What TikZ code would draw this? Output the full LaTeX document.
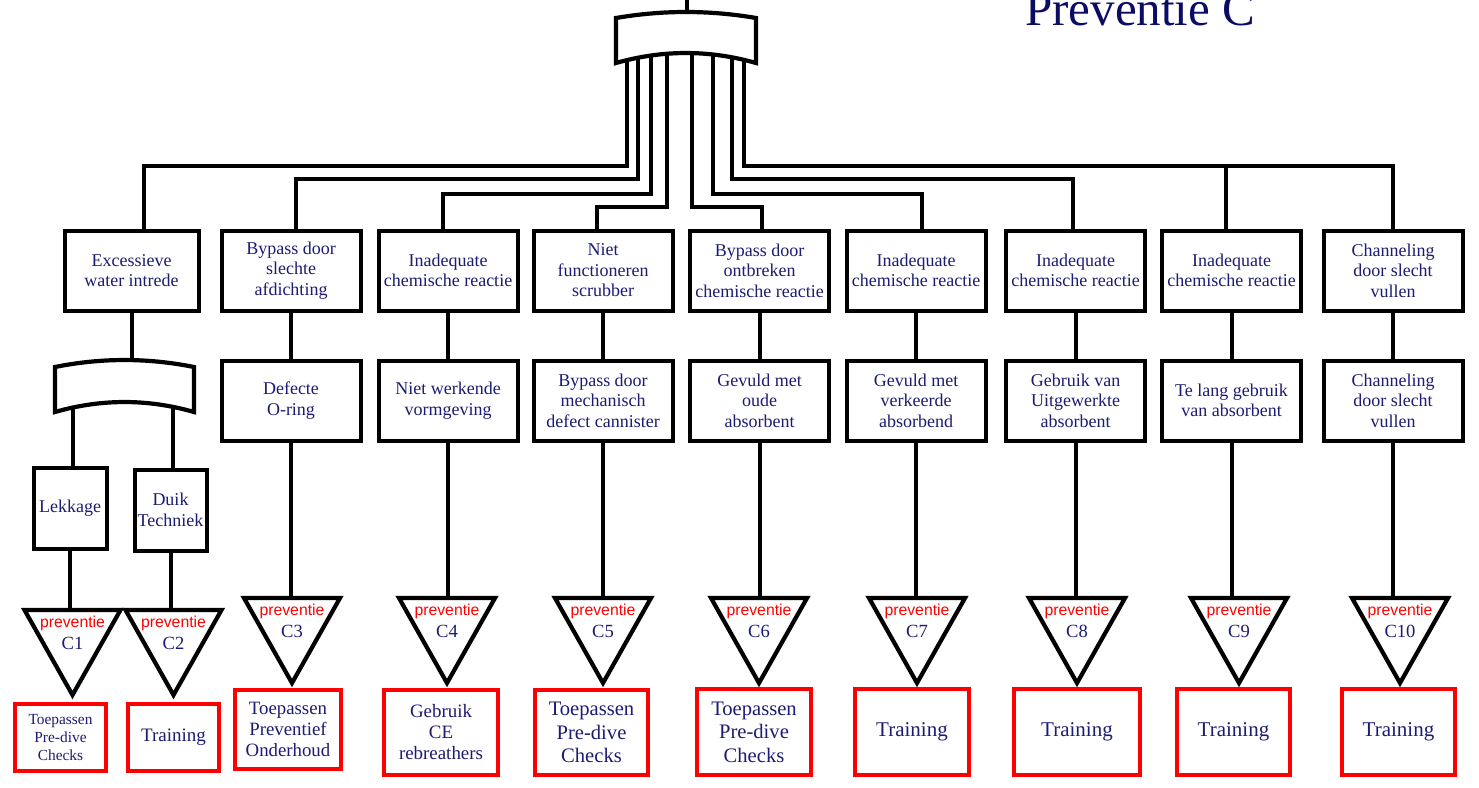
\documentclass[tikz,border=0pt]{standalone}
\usepackage{fontspec}
\setmainfont{Liberation Serif}
\newfontfamily\arialfont{Liberation Sans}
\usetikzlibrary{calc}
\definecolor{navytxt}{RGB}{28,28,115}
\definecolor{navytitle}{RGB}{12,12,100}
\definecolor{redline}{RGB}{255,0,0}
\newcommand\fsz[2]{\fontsize{#1}{#2}\selectfont}
\tikzset{
  conn/.style={line width=4pt},
  box/.style={draw, line width=4pt, fill=white, text=navytxt, align=center, inner sep=1pt, font=\fsz{18}{20.5}, minimum width=139pt, minimum height=80pt},
  redbox/.style={draw=redline, line width=4pt, fill=white, text=navytxt, align=center, inner sep=1pt, minimum height=85.5pt},
  gateline/.style={line width=4.2pt, line join=miter},
  prevlbl/.style={text=redline, font=\arialfont\fsz{15.8}{17}, inner sep=0pt},
  cnum/.style={text=navytxt, font=\fsz{18.6}{20}, inner sep=0pt},
  titlestyle/.style={text=navytitle, font=\fsz{49}{55}, inner sep=0pt}
}
\newcommand\prevtri[4]{%
  \coordinate (#1top) at (#2,#3);
  \coordinate (#1tip) at (#2,#3+85);
  \draw[gateline,fill=white] (#2-48,#3) -- (#2+48,#3) -- (#1tip) -- cycle;
  \node[prevlbl,anchor=base] (#1p) at (#2,#3+17) {preventie};
  \node[cnum,anchor=base] (#1c) at (#2,#3+39) {#4};
}
\begin{document}
\begin{tikzpicture}[x=1pt,y=-1pt]
\useasboundingbox (0,0) rectangle (1479,787);

% title
\node[titlestyle,anchor=base west] (title) at (1025,25) {Preventie C};

% row 1
\node[box,minimum width=134pt] (b1) at (131.5,270.5) {Excessieve\\water intrede};
\node[box] (b2) at (291,270.5) {Bypass door\\slechte\\afdichting};
\node[box] (b3) at (448,270.5) {Inadequate\\chemische reactie};
\node[box] (b4) at (603,270.5) {Niet\\functioneren\\scrubber};
\node[box] (b5) at (759.5,270.5) {Bypass door\\ontbreken\\chemische reactie};
\node[box] (b6) at (916,270.5) {Inadequate\\chemische reactie};
\node[box] (b7) at (1075.5,270.5) {Inadequate\\chemische reactie};
\node[box] (b8) at (1231.5,270.5) {Inadequate\\chemische reactie};
\node[box] (b9) at (1393,270.5) {Channeling\\door slecht\\vullen};

% row 2
\node[box] (r2) at (291,400.5) {Defecte\\O-ring};
\node[box] (r3) at (448,400.5) {Niet werkende\\vormgeving};
\node[box] (r4) at (603,400.5) {Bypass door\\mechanisch\\defect cannister};
\node[box] (r5) at (759.5,400.5) {Gevuld met\\oude\\absorbent};
\node[box] (r6) at (916,400.5) {Gevuld met\\verkeerde\\absorbend};
\node[box] (r7) at (1075.5,400.5) {Gebruik van\\Uitgewerkte\\absorbent};
\node[box] (r8) at (1231.5,400.5) {Te lang gebruik\\van absorbent};
\node[box] (r9) at (1393,400.5) {Channeling\\door slecht\\vullen};

% left sub-events
\node[box,minimum width=73pt,minimum height=81pt] (lek) at (70,508) {Lekkage};
\node[box,minimum width=72pt,minimum height=81pt] (duik) at (170.5,510) {Duik\\Techniek};

% red measure boxes
\node[redbox,minimum width=91.5pt,minimum height=67.5pt,font=\fsz{15.4}{18}] (p1) at (60.5,737.5) {Toepassen\\Pre-dive\\Checks};
\node[redbox,minimum width=91.5pt,minimum height=67.5pt,font=\fsz{19}{21}] (p2) at (173.5,737.5) {Training};
\node[redbox,minimum width=106.5pt,minimum height=79.5pt,font=\fsz{18.8}{21}] (p3) at (288,729.5) {Toepassen\\Preventief\\Onderhoud};
\node[redbox,minimum width=114.5pt,font=\fsz{18.9}{21}] (p4) at (441,732.5) {Gebruik\\CE\\rebreathers};
\node[redbox,minimum width=113.5pt,font=\fsz{20.6}{23.5}] (p5) at (591.5,732.5) {Toepassen\\Pre-dive\\Checks};
\node[redbox,minimum width=114.5pt,font=\fsz{20.6}{23.5}] (p6) at (754,732) {Toepassen\\Pre-dive\\Checks};
\node[redbox,minimum width=114.5pt,font=\fsz{21}{23}] (p7) at (912,732) {Training};
\node[redbox,minimum width=126.5pt,font=\fsz{21}{23}] (p8) at (1077,732) {Training};
\node[redbox,minimum width=113.5pt,font=\fsz{21}{23}] (p9) at (1233.5,732) {Training};
\node[redbox,minimum width=113.5pt,font=\fsz{21}{23}] (p10) at (1398.5,732) {Training};

% gate coordinates
\coordinate (gtop) at (687,14);
\coordinate (topend) at (687,0);
\coordinate (o1) at (627,40);
\coordinate (o2) at (638,40);
\coordinate (o3) at (651,40);
\coordinate (o4) at (667,40);
\coordinate (o5) at (692,40);
\coordinate (o6) at (713,40);
\coordinate (o7) at (732,40);
\coordinate (o8) at (744,40);
\coordinate (h8) at (744,166);
\coordinate (g2top) at (131.5,365);
\coordinate (g2a) at (73,395);
\coordinate (g2b) at (173,395);

% triangles' top coordinates (needed by connectors)
\coordinate (t1top) at (72.5,610);
\coordinate (t2top) at (173.5,610);
\coordinate (t3top) at (292,598);
\coordinate (t4top) at (447,598);
\coordinate (t5top) at (603,598);
\coordinate (t6top) at (759,598);
\coordinate (t7top) at (917,598);
\coordinate (t8top) at (1077,598);
\coordinate (t9top) at (1239,598);
\coordinate (t10top) at (1400,598);

% connectors from top gate
\draw[conn] (gtop) -- (topend);
\draw[conn] (o1) -- ++(0,126) -| ([xshift=12.5pt]b1.north);
\draw[conn] (o2) -- ++(0,139) -| ([xshift=5pt]b2.north);
\draw[conn] (o3) -- ++(0,154) -| ([xshift=-5pt]b3.north);
\draw[conn] (o4) -- ++(0,167) -| ([xshift=-6pt]b4.north);
\draw[conn] (o5) -- ++(0,167) -| ([xshift=2.5pt]b5.north);
\draw[conn] (o6) -- ++(0,154) -| ([xshift=6pt]b6.north);
\draw[conn] (o7) -- ++(0,139) -| ([xshift=-2.5pt]b7.north);
\draw[conn] (o8) -- (h8) -| (b9.north);
\draw[conn] ([xshift=-5.5pt]b8.north) -- ([xshift=-5.5pt]b8.north |- h8);

% row1 -> row2
\foreach \i in {2,...,9} {
  \draw[conn] (b\i.south) -- (r\i.north);
}
% row2 -> triangles
\foreach \i in {2,...,9} {
  \pgfmathtruncatemacro{\j}{\i+1}
  \draw[conn] (r\i.south) -- (r\i.south |- t\j top);
}
% left branch
\draw[conn] (b1.south) -- (b1.south |- g2top);
\draw[conn] (g2a) -- (g2a |- lek.north);
\draw[conn] (g2b) -- (g2b |- duik.north);
\draw[conn] (lek.south) -- (lek.south |- t1top);
\draw[conn] (duik.south) -- (duik.south |- t2top);

% gates (drawn over connector ends)
\draw[gateline,fill=white] (616,18) .. controls (662.7,10) and (709.3,10) .. (756,18) -- (756,63) .. controls (709.3,49.7) and (662.7,49.7) .. (616,63) -- cycle;
\draw[gateline,fill=white] (55,367) .. controls (101.3,357.7) and (147.7,357.7) .. (194,367) -- (194,412) .. controls (147.7,398.7) and (101.3,398.7) .. (55,412) -- cycle;

% triangles
\prevtri{t1}{72.5}{610}{C1}
\prevtri{t2}{173.5}{610}{C2}
\prevtri{t3}{292}{598}{C3}
\prevtri{t4}{447}{598}{C4}
\prevtri{t5}{603}{598}{C5}
\prevtri{t6}{759}{598}{C6}
\prevtri{t7}{917}{598}{C7}
\prevtri{t8}{1077}{598}{C8}
\prevtri{t9}{1239}{598}{C9}
\prevtri{t10}{1400}{598}{C10}
\end{tikzpicture}
\end{document}
